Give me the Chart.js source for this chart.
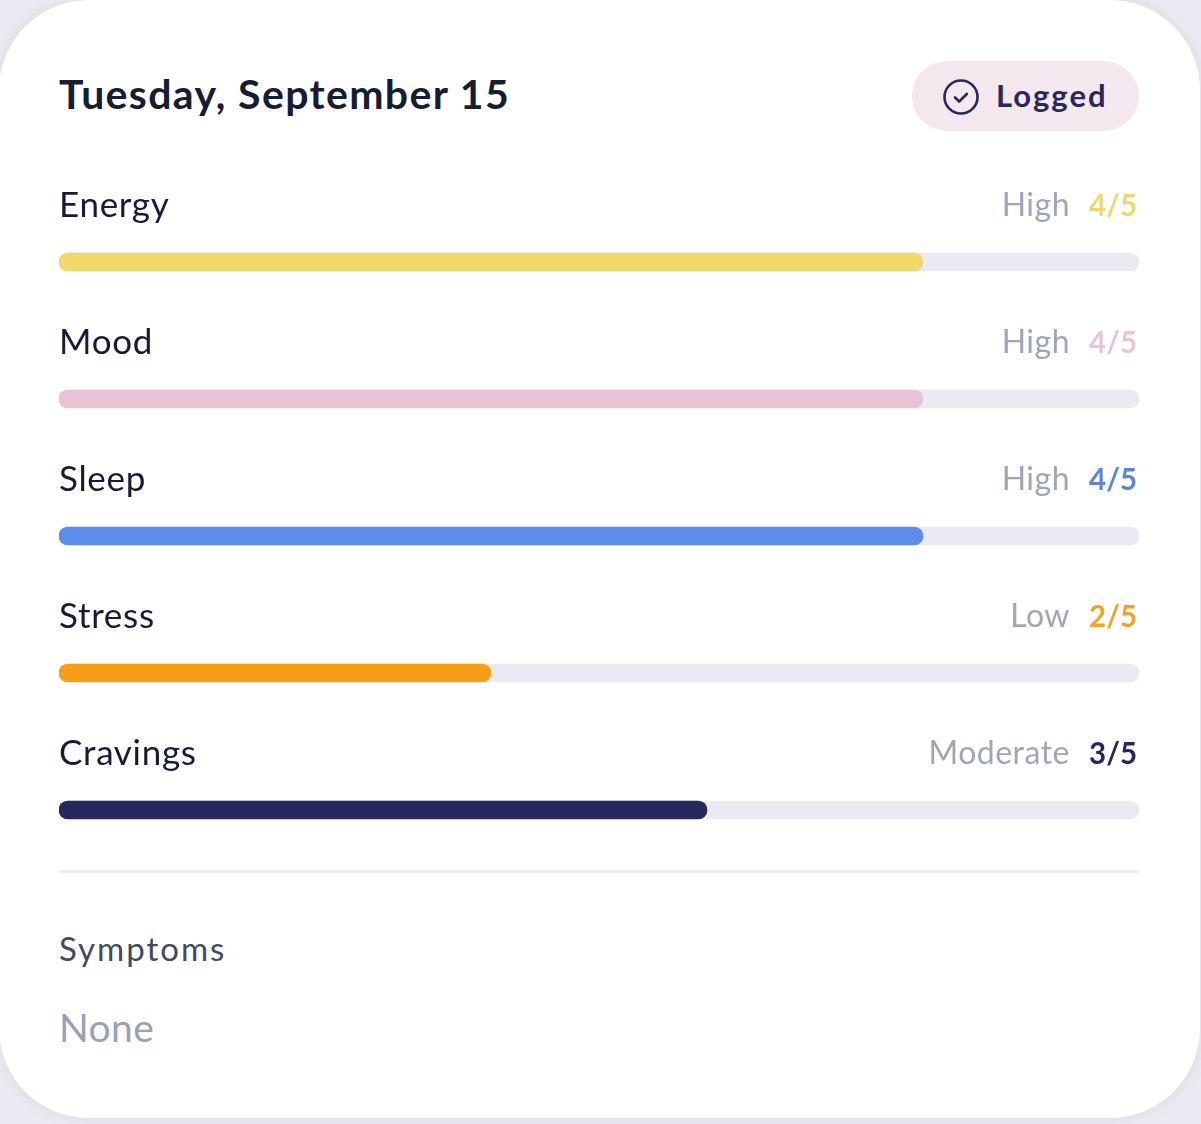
<!DOCTYPE html>
<html><head><meta charset="utf-8">
<script src="https://cdn.jsdelivr.net/npm/chart.js@4"></script>
<style>
html,body{margin:0;padding:0;width:1201px;height:1124px;overflow:hidden;background:#ebe9f1;font-family:"Lato","Open Sans",sans-serif}
#card{position:absolute;left:-1px;top:0;width:1201px;height:1118px;background:#fff;border-radius:90px;box-shadow:0 0 14px rgba(120,115,150,.12)}
#wrap{position:absolute;left:0;top:0;width:1201px;height:1124px}
.t{position:absolute;white-space:nowrap;line-height:1}
#title{left:59px;top:73px;font-size:41px;font-weight:700;color:#161d33;letter-spacing:1.35px}
#pill{position:absolute;left:912px;top:61px;width:227px;height:70px;border-radius:35px;background:#f4e7ee}
#logged{left:996px;top:80px;font-size:31px;font-weight:700;color:#27295c;letter-spacing:2px}
#icon{position:absolute;left:943px;top:78px}
#rule{position:absolute;left:59px;top:870px;width:1080px;height:3px;background:#eeeef0}
#symptoms{left:59px;top:932px;font-size:33px;color:#414b5c;letter-spacing:2px}
#none{left:59px;top:1008px;font-size:39px;color:#98a2b3;letter-spacing:.4px}
</style></head><body>
<div id="card"></div>
<div id="pill"></div>
<svg id="icon" width="36" height="38" viewBox="0 0 36 38"><circle cx="18" cy="19" r="16.5" fill="none" stroke="#27295c" stroke-width="2.6"/><path d="M12 19.5l4.2 4 7.6-7.5" fill="none" stroke="#27295c" stroke-width="2.6" stroke-linecap="round" stroke-linejoin="round"/></svg>
<div class="t" id="title"></div>
<div class="t" id="logged"></div>
<div id="rule"></div>
<div class="t" id="symptoms"></div>
<div class="t" id="none"></div>
<div id="wrap"><canvas id="c" width="1201" height="1124" style="display:block;width:1201px;height:1124px"></canvas></div>
<script>
const dateTitle = "Tuesday, September 15";
const statusLabel = "Logged";
const symptomsTitle = "Symptoms";
const symptomsValue = "None";
const categories = ["Energy","Mood","Sleep","Stress","Cravings"];
const scores = [4,4,4,2,3];
const maxScore = 5;
const trackValues = [5,5,5,5,5];
const levels = ["High","High","High","Low","Moderate"];
const barColors = ["#f2d76b","#e7c3d5","#5c8dea","#f69f16","#27295c"];
const scoreColors = ["#efd76f","#e6c5d6","#5c86d8","#f0a326","#27295c"];
const trackColor = "#ebe9f1";

document.getElementById('title').textContent = dateTitle;
document.getElementById('logged').textContent = statusLabel;
document.getElementById('symptoms').textContent = symptomsTitle;
document.getElementById('none').textContent = symptomsValue;

const spacing = {
  id:'spacing',
  beforeDraw(chart){ chart.ctx.letterSpacing='0.7px'; }
};
const rightLabels = {
  id:'rightLabels',
  afterDraw(chart){
    const {ctx,scales:{y},chartArea} = chart;
    ctx.save();
    ctx.textBaseline='alphabetic';
    categories.forEach((c,i)=>{
      const base = y.getPixelForValue(i)-46;
      const score = scores[i]+"/"+maxScore;
      ctx.textAlign='right';
      ctx.letterSpacing='0px';
      ctx.font='700 29.5px Lato, "Open Sans", sans-serif';
      ctx.fillStyle=scoreColors[i];
      ctx.fillText(score,chartArea.right-2,base);
      ctx.letterSpacing='0.5px';
      ctx.font='400 32px Lato, "Open Sans", sans-serif';
      ctx.fillStyle='#a0a7b4';
      ctx.fillText(levels[i],1070,base);
    });
    ctx.restore();
  }
};

new Chart(document.getElementById('c'),{
  type:'bar',
  data:{labels:categories,datasets:[
    {label:'Score',data:scores,backgroundColor:barColors,borderRadius:9,borderSkipped:false,barThickness:18,grouped:false,order:1},
    {label:'Max',data:trackValues,backgroundColor:trackColor,borderRadius:9,borderSkipped:false,barThickness:18,grouped:false,order:2}
  ]},
  options:{
    indexAxis:'y',responsive:false,animation:false,devicePixelRatio:1,
    layout:{padding:{left:59,right:62,top:193.5,bottom:245.5}},
    plugins:{legend:{display:false},tooltip:{enabled:false}},
    scales:{
      x:{display:false,min:0,max:maxScore},
      y:{
        grid:{display:false,drawTicks:false},border:{display:false},
        ticks:{mirror:true,padding:0,labelOffset:-56,color:'#161d33',font:{size:35,family:'Lato, "Open Sans", sans-serif'}}
      }
    }
  },
  plugins:[spacing,rightLabels]
});
</script>
</body></html>
